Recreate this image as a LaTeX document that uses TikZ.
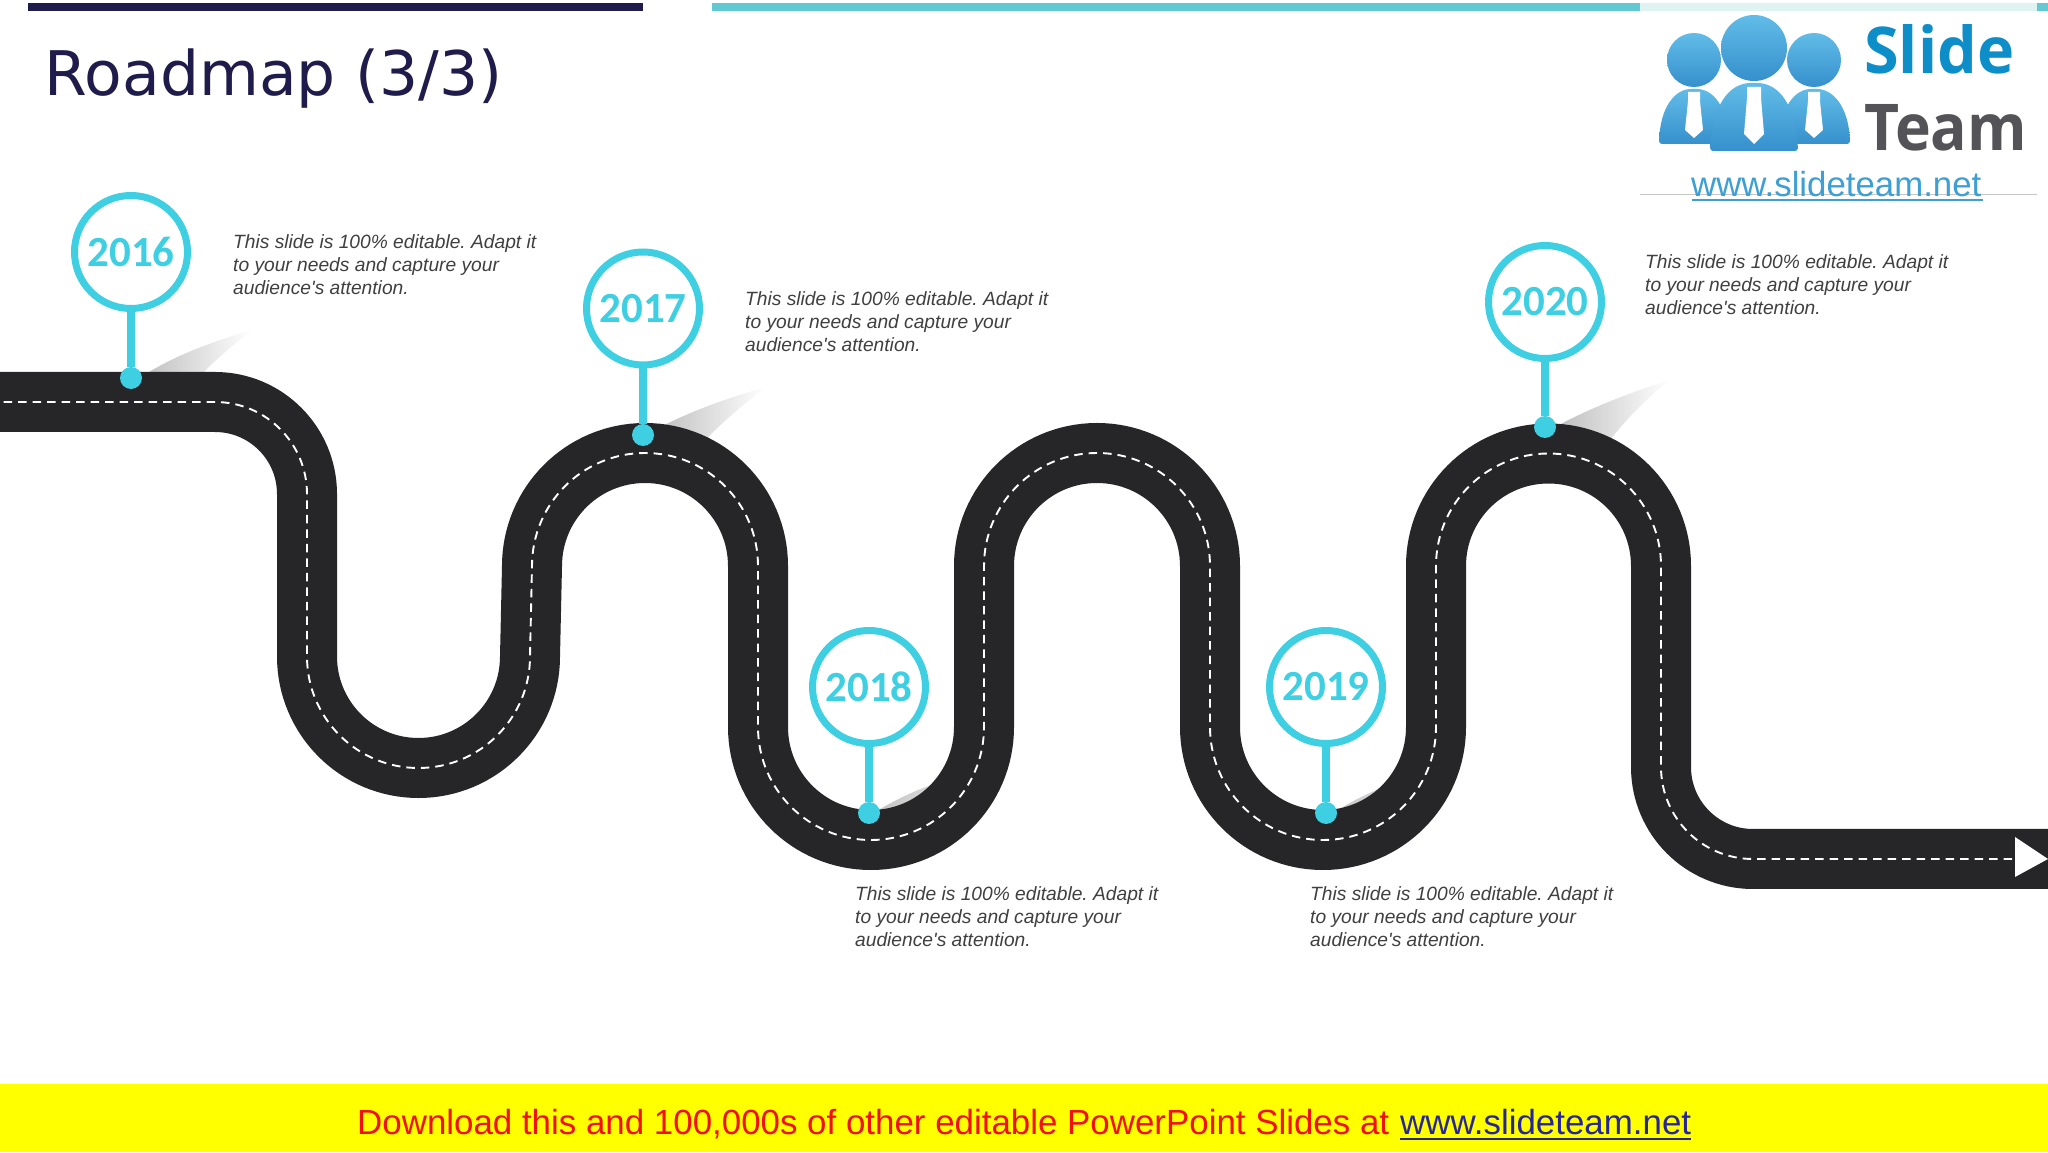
\documentclass[tikz,border=0pt]{standalone}
\usepackage{fontspec}
\setmainfont{Liberation Sans}
\newfontfamily\descfont{Liberation Sans}
\newfontfamily\titlefont{DejaVu Sans}
\newfontfamily\yearfont{Carlito}
\newfontfamily\logofont{Open Sans}
\definecolor{roadcol}{HTML}{262628}
\definecolor{pincol}{HTML}{3FCFE2}
\definecolor{navy}{HTML}{1F1B4B}
\definecolor{teal}{HTML}{62C8D2}
\definecolor{paleteal}{HTML}{DFF3F2}
\definecolor{desccol}{HTML}{404040}
\definecolor{logoblueL}{HTML}{62BCE8}
\definecolor{logoblueD}{HTML}{3590CC}
\definecolor{slideblue}{HTML}{0E8EC8}
\definecolor{teamgray}{HTML}{545458}
\definecolor{urlblue}{HTML}{3D9FD3}
\definecolor{footred}{HTML}{F01010}
\definecolor{footblue}{HTML}{26269A}
\definecolor{footyellow}{HTML}{FFFF00}
\definecolor{shadeA}{HTML}{BEBEBE}
\definecolor{shadeM}{HTML}{EEEEEE}
\definecolor{shadeB}{HTML}{C4C4C4}
\definecolor{shadeC}{HTML}{DCDCDC}
\tikzset{
  x=1pt,y=1pt,
  ring/.style={circle,draw=pincol,line width=7pt,fill=white,minimum size=113pt,inner sep=0pt,text=pincol,font=\yearfont\bfseries\fontsize{43}{43}\selectfont},
  pindot/.style={circle,fill=pincol,minimum size=22pt,inner sep=0pt},
  stem/.style={draw=pincol,line width=7.5pt},
  road/.style={draw=roadcol,line width=60pt},
  lane/.style={draw=white,line width=1.9pt,dash pattern=on 8.5pt off 6pt},
  desc/.style={anchor=north west,inner sep=0pt,align=left,text=desccol,font=\descfont\frenchspacing\itshape\fontsize{19.2}{23}\selectfont},
  shadowA/.style={left color=shadeA,middle color=shadeM,right color=white,draw=none},
  shadowB/.style={left color=shadeB,right color=shadeC,draw=none},
  head/.style={top color=logoblueL,bottom color=logoblueD,draw=none},
  body/.style={top color=logoblueL,bottom color=logoblueD,draw=none,rounded corners=3pt},
  tie/.style={fill=white,draw=none},
  logoword/.style={anchor=base west,inner sep=0pt,font=\logofont\bfseries\fontsize{64.5}{64.5}\selectfont},
  foottext/.style={anchor=base west,inner sep=0pt,font=\fontsize{34.9}{34.9}\selectfont},
}
\newcommand{\desctext}{This slide is 100\% editable. Adapt it\\to your needs and capture your\\audience's attention.}
\newcommand{\roadpath}{(-40,750) -- (215,750) arc[start angle=90,end angle=0,radius=92]
  -- (307,495.5) arc[start angle=180,end angle=360,radius=111.5]
  -- (532,586) arc[start angle=180,end angle=0,radius=113]
  -- (758,425) arc[start angle=180,end angle=360,radius=113]
  -- (984,586) arc[start angle=180,end angle=0,radius=113]
  -- (1210,425) arc[start angle=180,end angle=360,radius=113]
  -- (1436,586) arc[start angle=180,end angle=0,radius=112.5]
  -- (1661,385) arc[start angle=180,end angle=270,radius=92]
  -- (2015,293)}
\begin{document}
\begin{tikzpicture}
\useasboundingbox (0,0) rectangle (2048,1152);
\fill[white] (0,0) rectangle (2048,1152);
% top bars
\fill[navy] (28,1140.5) rectangle (643,1148.5);
\fill[teal] (712,1141) rectangle (1640,1149);
\fill[paleteal] (1640,1141) rectangle (2037,1149);
\fill[teal] (2037,1141) rectangle (2048,1149);
\node[anchor=base west,inner sep=0pt,text=navy,font=\titlefont\fontsize{61.5}{61.5}\selectfont] (title) at (44.5,1056.5) {Roadmap (3/3)};
% shadows
\shade[shadowA] (141,775) .. controls (175,797) and (212,810) .. (252,822) .. controls (232,806) and (212,790) .. (195,770) -- cycle;
\shade[shadowA] (655,722) .. controls (690,741) and (728,754) .. (766,765) .. controls (746,750) and (725,732) .. (705,712) -- cycle;
\shade[shadowA] (1555,725) .. controls (1592,745) and (1632,760) .. (1670,772) .. controls (1650,757) and (1628,735) .. (1610,712) -- cycle;
\shade[shadowB] (875,340) .. controls (895,352) and (915,362) .. (945,372) -- (945,320) -- (880,320) -- cycle;
\shade[shadowB] (1335,340) .. controls (1350,350) and (1370,360) .. (1395,370) -- (1395,320) -- (1340,320) -- cycle;
% road
\draw[road,line cap=butt] \roadpath -- (2050,293);
\draw[lane] \roadpath;
\fill[white] (2015,315) -- (2048,293) -- (2015,275) -- cycle;
% pins
\node[pindot] (d16) at (131,774) {};
\node[ring] (y16) at (131,900) {2016};
\draw[stem] (y16) -- (d16);
\node[pindot] (d17) at (643,717) {};
\node[ring] (y17) at (643,843.5) {2017};
\draw[stem] (y17) -- (d17);
\node[pindot] (d18) at (869,339) {};
\node[ring] (y18) at (869,465) {2018};
\draw[stem] (y18) -- (d18);
\node[pindot] (d19) at (1326,339) {};
\node[ring] (y19) at (1326,465) {2019};
\draw[stem] (y19) -- (d19);
\node[pindot] (d20) at (1545,725) {};
\node[ring] (y20) at (1545,850) {2020};
\draw[stem] (y20) -- (d20);
% descriptions
\node[desc] (t16) at (233,917.5) {\desctext};
\node[desc] (t17) at (745,860.5) {\desctext};
\node[desc] (t18) at (855,265.5) {\desctext};
\node[desc] (t19) at (1310,265.5) {\desctext};
\node[desc] (t20) at (1645,897.5) {\desctext};
% logo
\shade[body] (1659,1008) .. controls (1660,1045) and (1675,1063) .. (1694,1063) .. controls (1713,1063) and (1728,1045) .. (1729,1008) -- cycle;
\shade[body] (1779,1008) .. controls (1780,1045) and (1795,1063) .. (1814,1063) .. controls (1833,1063) and (1849,1045) .. (1850,1008) -- cycle;
\shade[head] (1694,1092) circle[radius=27];
\shade[head] (1814,1092) circle[radius=27];
\shade[head] (1754,1104) circle[radius=33];
\shade[body] (1710,1001) .. controls (1712,1045) and (1728,1069) .. (1754,1069) .. controls (1780,1069) and (1796,1045) .. (1798,1001) -- cycle;
\fill[tie] (1688,1060) -- (1700,1060) -- (1700,1051) -- (1703,1022) -- (1694,1014) -- (1685,1022) -- (1688,1051) -- cycle;
\fill[tie] (1808,1060) -- (1820,1060) -- (1820,1051) -- (1823,1022) -- (1814,1014) -- (1805,1022) -- (1808,1051) -- cycle;
\fill[tie] (1747,1065) -- (1761,1065) -- (1761,1054) -- (1764,1018) -- (1754,1008) -- (1744,1018) -- (1747,1054) -- cycle;
\node[logoword,text=slideblue,xscale=0.975] (lslide) at (1864,1078) {Slide};
\node[logoword,text=teamgray,xscale=0.94] (lteam) at (1864,1001) {Team};
\draw[gray!45,line width=1pt] (1640,957) -- (2037,957);
\node[anchor=base west,inner sep=0pt,text=urlblue,font=\fontsize{34.8}{34.8}\selectfont] (lurl) at (1691,955.5) {www.slideteam.net};
\draw[urlblue,line width=2pt] (lurl.base west)++(1,-4) -- ++(291,0);
% footer
\fill[footyellow] (0,0) rectangle (2048,68);
\node[foottext,text=footred] (foot) at (357,18) {Download this and 100,000s of other editable PowerPoint Slides at};
\node[foottext,text=footblue] (link) at (1400,18) {www.slideteam.net};
\draw[footblue,line width=2pt] (link.base west)++(0,-5) -- ++(291,0);
\end{tikzpicture}
\end{document}
